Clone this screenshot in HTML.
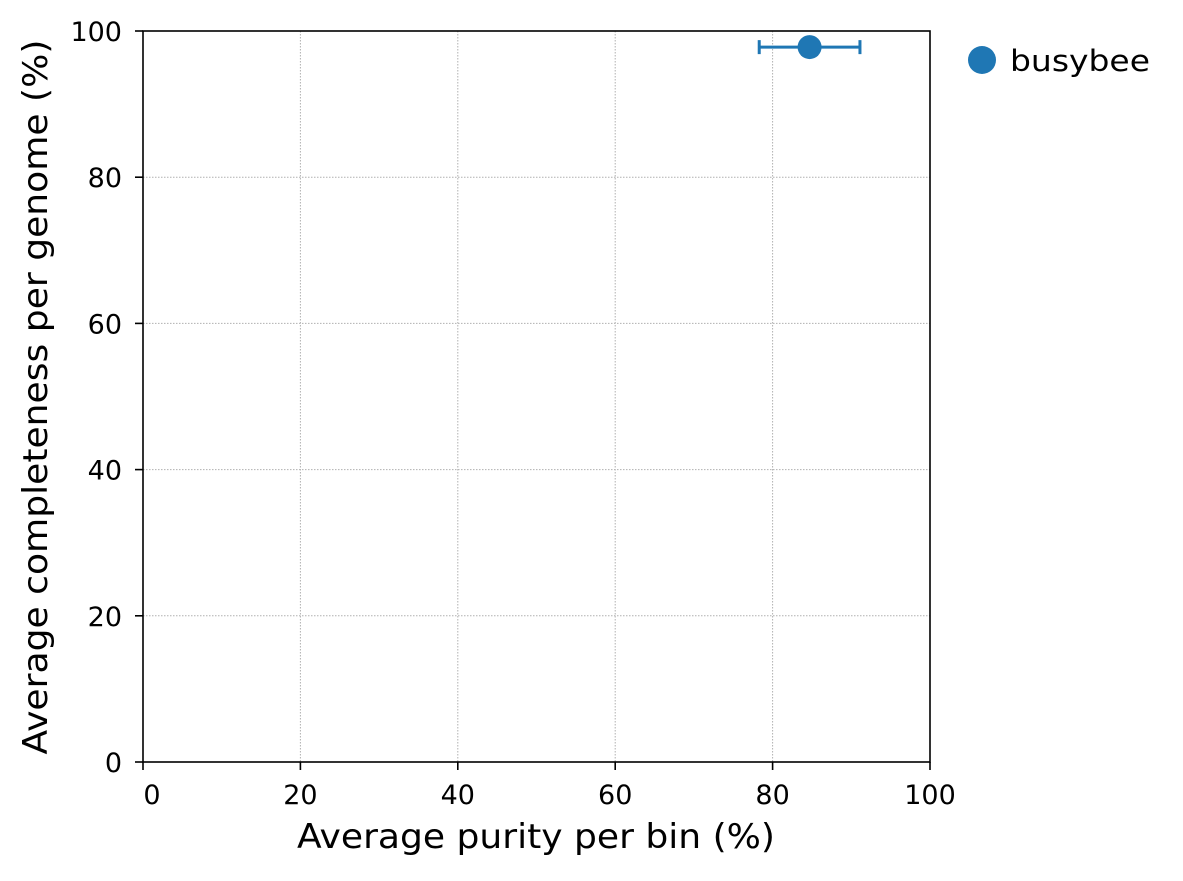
<!DOCTYPE html>
<html><head><meta charset="utf-8"><style>
body{margin:0;background:#fff;}
svg text{font-family:"DejaVu Sans","Liberation Sans",sans-serif;fill:#000;}
</style></head><body>
<svg id="chart" width="1183" height="876" xmlns="http://www.w3.org/2000/svg">
<g id="grid"></g>
<g id="xticks"></g>
<g id="yticks"></g>
<g id="marks"></g>
<rect x="143" y="31" width="787" height="731" fill="none" stroke="#000" stroke-width="1.6"/>
<text x="536" y="848" font-size="34" text-anchor="middle" textLength="478" lengthAdjust="spacingAndGlyphs">Average purity per bin (%)</text>
<text transform="translate(47,397) rotate(-90)" font-size="34" text-anchor="middle" textLength="715" lengthAdjust="spacingAndGlyphs">Average completeness per genome (%)</text>
<g>
<circle cx="982" cy="60" r="14" fill="#1f77b4"/>
<text x="1010" y="71" font-size="29" textLength="140" lengthAdjust="spacingAndGlyphs">busybee</text>
</g>
</svg>
<script>
const xTicks=[0,20,40,60,80,100];
const yTicks=[0,20,40,60,80,100];
const names=["busybee"];
const purity=[84.7];
const purityLo=[78.3];
const purityHi=[91.1];
const completeness=[97.8];
const NS="http://www.w3.org/2000/svg";
const X0=143,X1=930,Y0=762,Y1=31;
const sx=v=>X0+(v/100)*(X1-X0);
const sy=v=>Y0-(v/100)*(Y0-Y1);
function mk(t,a,p){const e=document.createElementNS(NS,t);for(const k in a)e.setAttribute(k,a[k]);p.appendChild(e);return e;}
const grid=document.getElementById('grid'),xg=document.getElementById('xticks'),yg=document.getElementById('yticks'),mg=document.getElementById('marks');
xTicks.forEach(v=>{
 const x=sx(v);
 const gl=mk('line',{x1:x,x2:x,y1:Y1,y2:Y0,stroke:'#b0b0b0','stroke-width':1,'stroke-dasharray':'1.5,1.5'},grid);
 
 
 const t=mk('line',{x1:x,x2:x,y1:Y0,y2:Y0+8,stroke:'#000','stroke-width':1.6},xg);
 
 
 const l=mk('text',{x:v===0?x+9:x,y:Y0+42,'font-size':27,'text-anchor':'middle'},xg);
 l.textContent=v;
 
 
});
yTicks.forEach(v=>{
 const y=sy(v);
 const gl=mk('line',{x1:X0,x2:X1,y1:y,y2:y,stroke:'#b0b0b0','stroke-width':1,'stroke-dasharray':'1.5,1.5'},grid);
 
 
 const t=mk('line',{x1:X0-8,x2:X0,y1:y,y2:y,stroke:'#000','stroke-width':1.6},yg);
 
 
 const l=mk('text',{x:X0-21,y:y+10,'font-size':27,'text-anchor':'end'},yg);
 l.textContent=v;
 
 
});
names.forEach((n,i)=>{
 const y=sy(completeness[i]),xl=sx(purityLo[i]),xh=sx(purityHi[i]);
 const eb=mk('path',{d:`M${xl},${y}H${xh}M${xl},${y-7}V${y+7}M${xh},${y-7}V${y+7}`,stroke:'#1f77b4','stroke-width':3,fill:'none'},mg);
 
 
 const c=mk('circle',{cx:sx(purity[i]),cy:y,r:12,fill:'#1f77b4'},mg);
 
 
});
</script>
</body></html>
